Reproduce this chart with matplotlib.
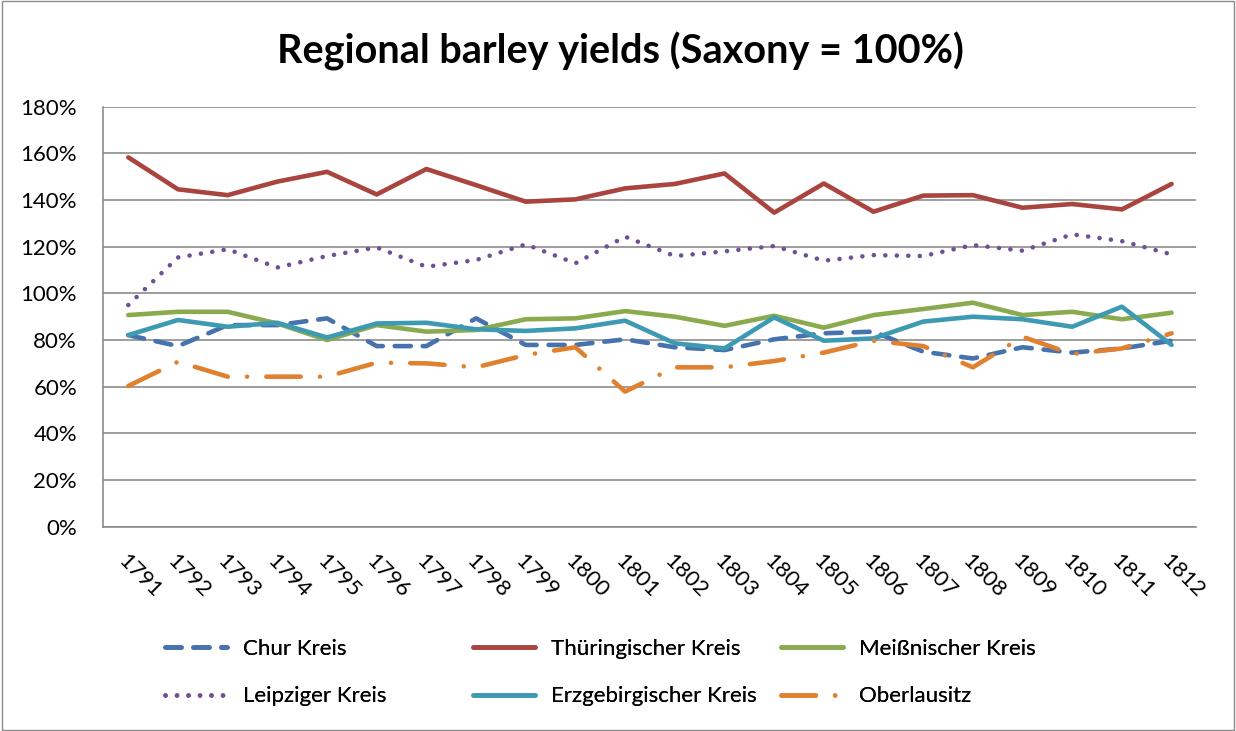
import matplotlib.pyplot as plt
import matplotlib.patches as mpatches
from matplotlib.ticker import FuncFormatter

plt.rcParams['font.family'] = ['Lato', 'DejaVu Sans']

years = [str(y) for y in range(1791, 1813)]

chur = [82.1, 77.4, 86.4, 86.4, 89.3, 77.4, 77.4, 89.3, 77.9, 77.9, 80.3,
        76.9, 75.7, 80.3, 82.9, 83.6, 75.0, 72.1, 76.9, 74.6, 76.4, 79.7]
thuer = [158.3, 144.6, 142.1, 147.9, 152.1, 142.4, 153.3, 146.4, 139.3, 140.3, 145.0,
         146.9, 151.4, 134.6, 147.1, 135.0, 141.9, 142.1, 136.7, 138.3, 136.0, 146.9]
meiss = [90.7, 92.1, 92.1, 87.1, 80.0, 86.4, 83.6, 84.3, 88.9, 89.3, 92.4,
         90.0, 86.1, 90.4, 85.3, 90.7, 93.3, 96.0, 90.7, 92.1, 88.9, 91.7]
leipzig = [95.0, 115.4, 118.9, 111.1, 116.0, 119.7, 111.4, 114.3, 121.0, 112.9, 124.3,
           116.0, 118.0, 120.3, 114.0, 116.4, 116.0, 120.7, 118.3, 125.3, 122.4, 116.7]
erzgeb = [82.1, 88.6, 85.7, 87.4, 81.1, 87.1, 87.4, 84.6, 83.9, 85.0, 88.3,
          78.6, 76.4, 89.7, 79.7, 80.7, 87.9, 90.0, 88.9, 85.7, 94.3, 77.9]
oberl = [60.3, 70.7, 64.3, 64.3, 64.3, 70.3, 70.0, 68.3, 73.6, 76.9, 57.9,
         68.3, 68.3, 71.0, 74.6, 79.7, 77.4, 68.3, 81.4, 74.0, 76.4, 82.9]

fig = plt.figure(figsize=(12.36, 7.31), dpi=100)
ax = fig.add_axes([0.0837, 0.2795, 0.8843, 0.5745])

lw = 3.3
x = range(len(years))
l_chur, = ax.plot(x, chur, color='#4672AE', lw=lw, dashes=(3.5, 2.6), dash_capstyle='round',
                  label='Chur Kreis', zorder=3)
l_thuer, = ax.plot(x, thuer, color='#A9443F', lw=lw, label='Thüringischer Kreis',
                   solid_capstyle='round', zorder=3)
l_meiss, = ax.plot(x, meiss, color='#8AAA4E', lw=lw, label='Meißnischer Kreis',
                   solid_capstyle='round', zorder=3)
l_leip, = ax.plot(x, leipzig, color='#6E5194', lw=lw, dashes=(0.01, 2.5), dash_capstyle='round',
                  label='Leipziger Kreis', zorder=3)
l_erz, = ax.plot(x, erzgeb, color='#3E9AB2', lw=lw, label='Erzgebirgischer Kreis',
                 solid_capstyle='round', zorder=3)
l_ober, = ax.plot(x, oberl, color='#E08130', lw=lw, dashes=(7.5, 4.2, 0.01, 4.2), dash_capstyle='round',
                  label='Oberlausitz', zorder=3)

ax.set_xlim(-0.5, len(years) - 0.5)
ax.set_ylim(0, 180)
ax.set_yticks(range(0, 181, 20))
ax.yaxis.set_major_formatter(FuncFormatter(lambda v, p: f'{int(v)}%'))
ax.set_xticks(list(x))
ax.set_xticklabels(years, rotation=-45, ha='left', va='top', rotation_mode='anchor')
ax.tick_params(axis='both', length=0, labelsize=16, colors='black')
ax.tick_params(axis='x', pad=17)
ax.tick_params(axis='y', pad=19)
ax.grid(axis='y', color='#8C8C8C', lw=1.2, zorder=0)
ax.set_axisbelow(True)
for s in ['top', 'right']:
    ax.spines[s].set_visible(False)
for s in ['left', 'bottom']:
    ax.spines[s].set_color('#8C8C8C')
    ax.spines[s].set_linewidth(1.2)

fig.text(0.502, 0.93, 'Regional barley yields (Saxony = 100%)', ha='center', va='center',
         fontsize=28.5, fontweight='bold')

# legend: three columns placed by hand, two rows each
cols = [([l_chur, l_leip], 0.1335), ([l_thuer, l_erz], 0.3827), ([l_meiss, l_ober], 0.6319)]
for handles, x0 in cols:
    leg = fig.legend(handles=handles, loc='center left', bbox_to_anchor=(x0, 0.080),
                     frameon=False, fontsize=16, handlelength=2.8, handletextpad=0.7,
                     labelspacing=1.25, borderpad=0, borderaxespad=0)
    fig.add_artist(leg)

fig.patches.append(mpatches.Rectangle((0.002, 0.001), 0.996, 0.997, transform=fig.transFigure,
                                      fill=False, edgecolor='#8C8C8C', lw=1))

fig.savefig('out.png', dpi=100)
